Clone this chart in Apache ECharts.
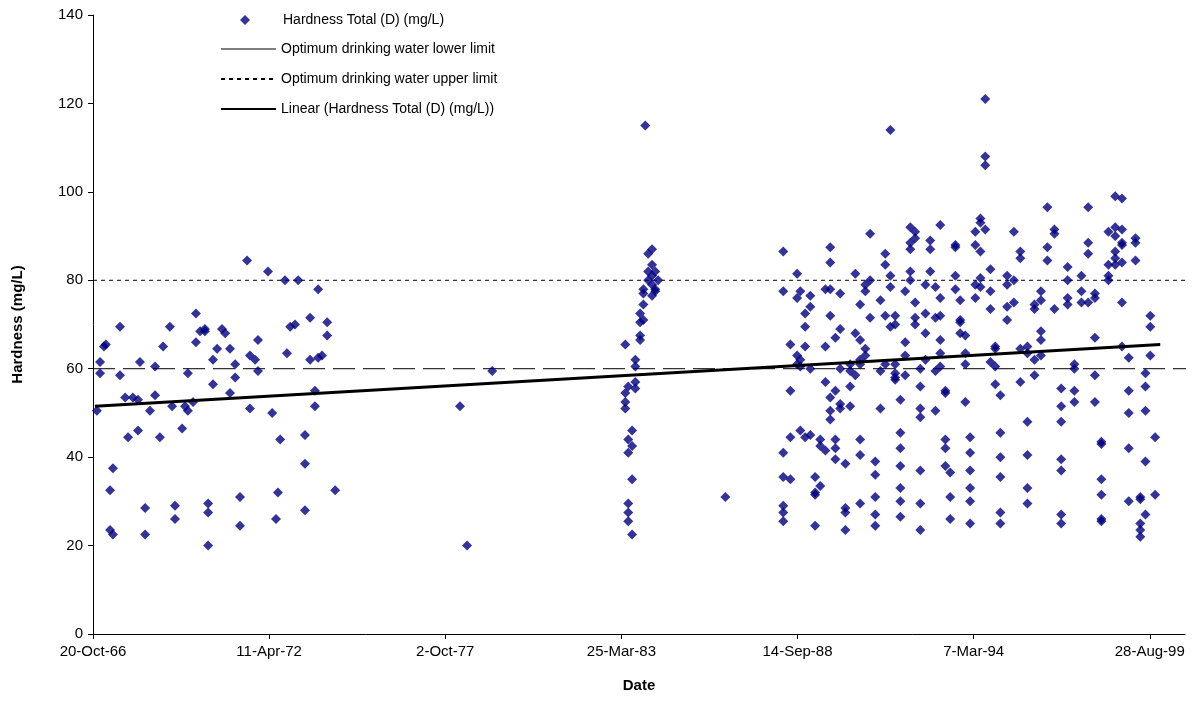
<!DOCTYPE html>
<html><head><meta charset="utf-8">
<script src="https://cdn.jsdelivr.net/npm/echarts@6/dist/echarts.min.js"></script>
<style>html,body{margin:0;padding:0;background:#fff}#c{width:1203px;height:708px}</style>
</head><body><div id="c"></div>
<script>
// sample columns: [decimal year, [hardness values mg/L]]
const samples = [
[1966.92,[50.5]],[1967.02,[59,61.5]],[1967.14,[65]],[1967.20,[65.5]],[1967.33,[32.5,23.5]],[1967.42,[22.5,37.5]],
[1967.64,[69.5,58.5]],[1967.80,[53.5]],[1967.89,[44.5]],[1968.04,[53.5]],[1968.20,[53,46]],[1968.26,[61.5]],
[1968.42,[28.5,22.5]],[1968.57,[50.5]],[1968.73,[54,60.5]],[1968.88,[44.5]],[1968.98,[65]],[1969.19,[69.5]],
[1969.26,[51.5]],[1969.35,[26,29]],[1969.57,[46.5]],[1969.66,[51.5]],[1969.75,[50.5,59]],[1969.91,[52.5]],
[1970.00,[72.5,66]],[1970.13,[68.5]],[1970.28,[69,68.5]],[1970.38,[29.5,20,27.5]],[1970.53,[56.5,62]],
[1970.66,[64.5]],[1970.81,[69]],[1970.91,[68]],[1971.06,[54.5,64.5]],[1971.22,[58,61]],[1971.37,[31,24.5]],
[1971.59,[84.5]],[1971.68,[51,63]],[1971.84,[62]],[1971.93,[59.5,66.5]],[1972.24,[82]],[1972.37,[50]],
[1972.49,[26]],[1972.55,[32]],[1972.62,[44]],[1972.77,[80]],[1972.83,[63.5]],[1972.93,[69.5]],[1973.08,[70]],
[1973.18,[80]],[1973.39,[28,38.5,45]],[1973.55,[62,71.5]],[1973.70,[51.5,55]],[1973.80,[62.5,78]],[1973.92,[63]],
[1974.08,[70.5,67.5]],[1974.33,[32.5]],
[1978.21,[51.5]],[1978.43,[20]],[1979.21,[59.5]],[1986.46,[31]],
[1983.35,[65.5,52.5,51,54.5]],[1983.44,[56,44,41,29.5,27.5,25.5]],[1983.56,[22.5,35,42.5,46]],
[1983.66,[57,62,55.5,60.5]],[1983.81,[66.5,67.5,70.5,72.5]],[1983.91,[78,77,74.5,71]],[1983.97,[115]],
[1984.06,[80,82,86]],[1984.18,[76.5,79,81,83.5,87]],[1984.28,[82,78,77.5]],[1984.37,[80]],
[1988.26,[86.5,77.5,41,35.5,29,25.5,27.5]],[1988.48,[35,44.5,65.5,55]],[1988.69,[81.5,76,63,61]],
[1988.79,[77.5,62,60.5,46]],[1988.94,[69.5,65,72.5,44.5]],[1989.10,[76.5,74,60,45]],[1989.25,[35.5,32,31.5,24.5]],
[1989.41,[42.5,33.5,44]],[1989.57,[65,78,57,41.5]],[1989.72,[87.5,84,78,72,48.5,50.5,53.5]],
[1989.88,[55,67,44,42,39.5]],[1990.03,[69,77,60,51,52]],[1990.19,[38.5,28.5,27.5,23.5]],[1990.34,[59.5,61,56,51.5]],
[1990.50,[81.5,68,58.5]],[1990.65,[66.5,74.5,62,61,44,40.5,29.5]],[1990.81,[77.5,79,64.5,63]],[1990.96,[90.5,80,71.5]],
[1991.12,[39,36,31,27,24.5]],[1991.28,[59.5,51,75.5]],[1991.43,[61,72,86,83.5]],[1991.59,[114,81,78.5,69.5]],
[1991.74,[72,70,61,57.5,59,58]],[1991.90,[53,45.5,42,38,33,30,26.5]],[1992.05,[77.5,63,58.5,66]],
[1992.21,[80,82,87,88.5,92]],[1992.36,[91,89.5,75,71.5,70]],[1992.52,[60,56,51,49,37,29.5,23.5]],
[1992.68,[79,72.5,68,62]],[1992.83,[82,87,89]],[1992.99,[50.5,59.5,71.5,78.5]],[1993.14,[92.5,76,72,66.5,63.5,60.5]],
[1993.30,[54.5,55,42,44,38]],[1993.45,[26,31,36.5]],[1993.61,[78,81,88,87.5]],[1993.76,[71,68,75.5,70.5]],
[1993.92,[67.5,61,63.5,52.5]],[1994.07,[33,30,25,37,41,44.5]],[1994.23,[79,76,88,91]],[1994.39,[94,93,86.5,80.5,78.5]],
[1994.54,[108,106,121,91.5]],[1994.70,[82.5,77.5,73.5,61.5]],[1994.85,[56.5,60.5,64.5,65]],
[1995.01,[54,45.5,40,35.5,27.5,25]],[1995.22,[81,79,74,71]],[1995.43,[80,91,75]],[1995.63,[85,86.5,64.5,57]],
[1995.85,[65,63.5,48,40.5,33,29.5]],[1996.07,[74.5,73.5,62,58.5]],[1996.27,[77.5,75.5,68.5,66.5,63]],
[1996.47,[96.5,87.5,84.5]],[1996.69,[90.5,91.5,73.5]],[1996.90,[55.5,51.5,48,39.5,37,27,25]],
[1997.10,[76,83,80,74.5]],[1997.31,[61,60,52.5,55]],[1997.53,[77.5,75,81]],[1997.74,[96.5,88.5,86,75]],
[1997.95,[76,77,67,58.5,52.5]],[1998.15,[43,43.5,35,31.5,26,25.5]],[1998.37,[81,80,83.5,91]],
[1998.58,[86.5,83.5,90,92,99,85]],[1998.79,[84,88.5,98.5,91.5,88,75,65]],[1999.00,[62.5,55,50,42,30]],
[1999.21,[88.5,84.5,89.5]],[1999.36,[31,25,23.5,22,30.5]],[1999.52,[39,27,50.5,56,59]],[1999.67,[72,69.5,63]],
[1999.82,[44.5,31.5]]
];
const trendEnds = [[1966.86,51.5],[1999.98,65.5]];
const lowerLimit = 60, upperLimit = 80;
const axisYears = [1966.80, 2000.79];
const yTicks = {min:0,max:140,interval:20};

const toSerial = y => 24400 + (y-1966.8)*365.25;
const pts = [];
samples.forEach(([yr,vals]) => vals.forEach(v => pts.push([toSerial(yr), v])));
const months=['Jan','Feb','Mar','Apr','May','Jun','Jul','Aug','Sep','Oct','Nov','Dec'];
function fmt(v){const d=new Date(Math.round(v-25569)*86400000);return d.getUTCDate()+'-'+months[d.getUTCMonth()]+'-'+String(d.getUTCFullYear()).slice(2);}
const font='Liberation Sans, Arial, sans-serif';
const xr=axisYears.map(toSerial);
const lt={fontFamily:font,fontSize:14,color:'#000'};
const chart=echarts.init(document.getElementById('c'));
chart.setOption({
 animation:false,
 grid:{left:93,right:18,top:15,bottom:74},
 legend:[
  {left:240,top:13,itemWidth:10,itemHeight:10,textStyle:Object.assign({padding:[0,0,0,28]},lt),itemGap:0,
   data:[{name:'Hardness Total (D) (mg/L)',icon:'diamond'}],padding:0},
  {left:220,top:42,orient:'vertical',itemGap:16,itemWidth:55,itemHeight:10,textStyle:lt,padding:0,
   data:[{name:'Optimum drinking water lower limit',itemStyle:{opacity:0},lineStyle:{type:'solid',width:1,color:'#000'}},
         {name:'Optimum drinking water upper limit',itemStyle:{opacity:0}},
         {name:'Linear (Hardness Total (D) (mg/L))',itemStyle:{opacity:0}}]}
 ],
 xAxis:{type:'value',min:24400,max:36800,interval:2000,name:'Date',nameLocation:'middle',nameGap:44,
   nameTextStyle:{fontFamily:font,fontSize:15,fontWeight:'bold',color:'#000'},
   axisLine:{lineStyle:{color:'#000'}},axisTick:{lineStyle:{color:'#000'}},splitLine:{show:false},
   axisLabel:{formatter:fmt,fontFamily:font,fontSize:15,color:'#000',margin:10}},
 yAxis:{type:'value',min:yTicks.min,max:yTicks.max,interval:yTicks.interval,name:'Hardness (mg/L)',nameLocation:'middle',nameGap:68,
   nameTextStyle:{fontFamily:font,fontSize:15,fontWeight:'bold',color:'#000'},
   axisLine:{show:true,lineStyle:{color:'#000'}},axisTick:{show:true,lineStyle:{color:'#000'}},splitLine:{show:false},
   axisLabel:{fontFamily:font,fontSize:15,color:'#000',margin:10}},
 series:[
  {name:'Hardness Total (D) (mg/L)',type:'scatter',symbol:'diamond',symbolSize:10,itemStyle:{color:'#000080'},data:pts,z:3},
  {name:'Optimum drinking water lower limit',type:'line',symbol:'none',itemStyle:{color:'#000'},lineStyle:{color:'#000',width:1,type:[22,8]},
   data:[[xr[0],lowerLimit],[xr[1],lowerLimit]]},
  {name:'Optimum drinking water upper limit',type:'line',symbol:'none',itemStyle:{color:'#000'},lineStyle:{color:'#000',width:1,type:[4,4]},
   data:[[xr[0],upperLimit],[xr[1],upperLimit]]},
  {name:'Linear (Hardness Total (D) (mg/L))',type:'line',symbol:'none',itemStyle:{color:'#000'},lineStyle:{color:'#000',width:3},
   data:trendEnds.map(([y,v])=>[toSerial(y),v]),z:4}
 ]
});
</script></body></html>
